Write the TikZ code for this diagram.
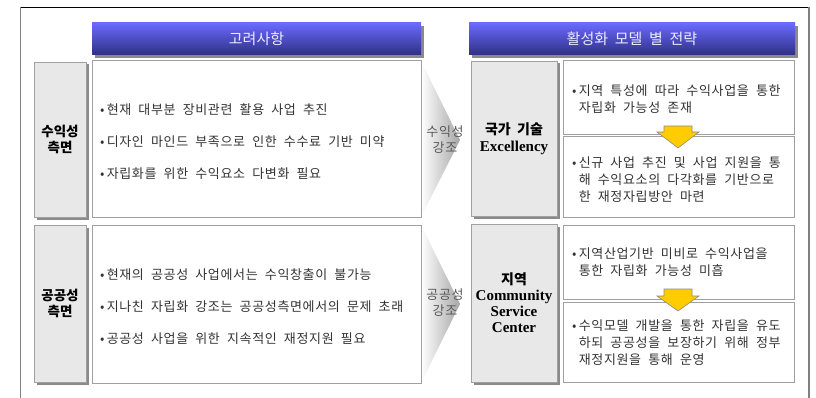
\documentclass[tikz,border=0pt]{standalone}
\usepackage{fontspec}
\setmainfont{Liberation Serif}
\newfontfamily\kr[WordSpace=2]{Noto Sans CJK KR}
\newfontfamily\krs[WordSpace=2,LetterSpace=5]{Noto Sans CJK KR}
\usetikzlibrary{shadows}
\definecolor{hdrtop}{HTML}{6A6AFF}
\definecolor{hdrbot}{HTML}{2F2F85}
\definecolor{lblfill}{HTML}{E8E8E8}
\definecolor{shadowgray}{HTML}{8A8A8A}
\definecolor{boxline}{HTML}{A0A0A0}
\definecolor{txt}{HTML}{333333}
\definecolor{arrowyellow}{HTML}{FFCC00}
\begin{document}
\begin{tikzpicture}[x=1pt,y=-1pt,
  hdr/.style={rectangle, draw=none, top color=hdrtop, bottom color=hdrbot, inner sep=0pt,
    text=white!92!blue, font=\kr\fontsize{15}{18}\selectfont,
    drop shadow={shadow xshift=3pt, shadow yshift=-3pt, fill=shadowgray, opacity=1}},
  lbl/.style={rectangle, draw=boxline, fill=lblfill, inner sep=0pt, align=center,
    drop shadow={shadow xshift=2.5pt, shadow yshift=-2.5pt, fill=shadowgray, opacity=1}},
  cbox/.style={rectangle, draw=boxline, line width=1pt, fill=white, inner sep=0pt},
  bul/.style={anchor=west, inner sep=0pt, text=txt, font=\krs\fontsize{13}{17}\selectfont, align=left},
  chev/.style={inner sep=0pt, text=black!65, font=\krs\fontsize{13}{16}\selectfont, align=center},
  yarrow/.style={fill=arrowyellow, draw=black!45, line width=0.6pt, line join=miter}
]
\useasboundingbox (0,0) rectangle (816,398);
% outer frame
\draw[black, line width=0.8pt] (20,7) -- (809.5,7);
\draw[gray, line width=1pt] (20,7) -- (20,398);
\draw[gray, line width=2pt] (809,7) -- (809,398);

% headers
\node[hdr, minimum width=329pt, minimum height=32pt] (h1) at (256.5,39) {고려사항};
\node[hdr, minimum width=326pt, minimum height=32pt] (h2) at (632,39) {활성화 모델 별 전략};

% chevrons (behind)
\shade[left color=white, right color=gray!70] (421,61) -- (460,140) -- (421,217) -- cycle;
\shade[left color=white, right color=gray!70] (421,225) -- (460,304) -- (421,383) -- cycle;

% left labels
\node[lbl, minimum width=52pt, minimum height=155pt, font=\kr\bfseries\fontsize{13.5}{16}\selectfont] (l1) at (60,139.5) {수익성\\측면};
\node[lbl, minimum width=52pt, minimum height=157pt, font=\kr\bfseries\fontsize{13.5}{16}\selectfont] (l2) at (60,303.5) {공공성\\측면};

% left content boxes
\node[cbox, minimum width=329pt, minimum height=156pt] (c1) at (256.5,139) {};
\node[cbox, minimum width=329pt, minimum height=158pt] (c2) at (256.5,304) {};

\node[bul] (c1a) at (100,110) {•\,현재 대부분 장비관련 활용 사업 추진};
\node[bul] (c1b) at (100,142) {•\,디자인 마인드 부족으로 인한 수수료 기반 미약};
\node[bul] (c1c) at (100,174) {•\,자립화를 위한 수익요소 다변화 필요};
\node[bul] (c2a) at (100,275) {•\,현재의 공공성 사업에서는 수익창출이 불가능};
\node[bul] (c2b) at (100,307) {•\,지나친 자립화 강조는 공공성측면에서의 문제 초래};
\node[bul] (c2c) at (100,339) {•\,공공성 사업을 위한 지속적인 재정지원 필요};

% chevron texts
\node[chev] (e1) at (445,140) {수익성\\강조};
\node[chev] (e2) at (445,303) {공공성\\강조};

% middle labels
\node[lbl, minimum width=86pt, minimum height=155pt, font=\bfseries\fontsize{15}{17}\selectfont] (m1) at (514,138.5)
  {{\kr\fontsize{14}{16}\selectfont 국가 기술}\\Excellency};
\node[lbl, minimum width=86pt, minimum height=158pt, font=\bfseries\fontsize{15}{16}\selectfont] (m2) at (514,303)
  {{\kr\fontsize{14}{16}\selectfont 지역}\\Community\\Service\\Center};

% right boxes
\node[cbox, minimum width=231pt, minimum height=74pt] (r1a) at (678.5,98) {};
\node[cbox, minimum width=231pt, minimum height=80pt] (r1b) at (678.5,177) {};
\node[cbox, minimum width=231pt, minimum height=74pt] (r2a) at (678.5,262) {};
\node[cbox, minimum width=231pt, minimum height=80pt] (r2b) at (678.5,342) {};

\node[bul] (t1a) at (572,99) {•\,지역 특성에 따라 수익사업을 통한\\\phantom{•\,}자립화 가능성 존재};
\node[bul] (t1b) at (572,180) {•\,신규 사업 추진 및 사업 지원을 통\\\phantom{•\,}해 수익요소의 다각화를 기반으로\\\phantom{•\,}한 재정자립방안 마련};
\node[bul] (t2a) at (572,262) {•\,지역산업기반 미비로 수익사업을\\\phantom{•\,}통한 자립화 가능성 미흡};
\node[bul] (t2b) at (572,343) {•\,수익모델 개발을 통한 자립을 유도\\\phantom{•\,}하되 공공성을 보장하기 위해 정부\\\phantom{•\,}재정지원을 통해 운영};

% yellow arrows
\draw[yarrow] (664,126) -- (692,126) -- (692,132) -- (699,132) -- (678,148) -- (657,132) -- (664,132) -- cycle;
\draw[yarrow] (664,289) -- (692,289) -- (692,296) -- (699,296) -- (678,311) -- (657,296) -- (664,296) -- cycle;
\end{tikzpicture}
\end{document}
